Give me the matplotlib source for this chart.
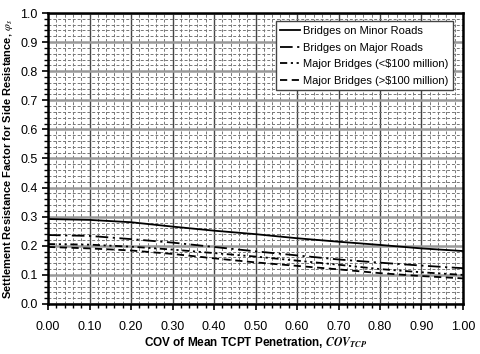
import numpy as np
import matplotlib
matplotlib.use("Agg")
import matplotlib.pyplot as plt
from matplotlib.ticker import MultipleLocator, FormatStrFormatter

plt.rcParams['font.family'] = ['Liberation Sans', 'DejaVu Sans']
plt.rcParams['mathtext.fontset'] = 'stix'

# COV values and resistance factors
cov = [0.0, 0.1, 0.2, 0.3, 0.4, 0.5, 0.6, 0.7, 0.8, 0.9, 1.0]
minor_roads = [0.292, 0.289, 0.281, 0.266, 0.252, 0.240, 0.226, 0.214, 0.203, 0.191, 0.182]
major_roads = [0.237, 0.234, 0.223, 0.211, 0.196, 0.181, 0.167, 0.153, 0.142, 0.132, 0.123]
bridges_lt100 = [0.206, 0.204, 0.197, 0.187, 0.175, 0.163, 0.149, 0.135, 0.120, 0.109, 0.100]
bridges_gt100 = [0.196, 0.191, 0.184, 0.172, 0.157, 0.143, 0.131, 0.119, 0.106, 0.096, 0.088]

labels = ['Bridges on Minor Roads', 'Bridges on Major Roads',
          'Major Bridges (<$100 million)', 'Major Bridges (>$100 million)']

fig = plt.figure(figsize=(4.81, 3.54), dpi=100)
ax = fig.add_axes([48/481, 1 - 304/354, 415/481, 291/354])

ax.plot(cov, minor_roads, color='black', lw=1.3, ls='-', label=labels[0])
ax.plot(cov, major_roads, color='black', lw=1.3, ls=(0, (7, 2.5, 1.2, 2.5)), label=labels[1])
ax.plot(cov, bridges_lt100, color='black', lw=1.3, ls=(0, (4, 2, 1.2, 2, 1.2, 2)), label=labels[2])
ax.plot(cov, bridges_gt100, color='black', lw=1.3, ls=(0, (4, 2.5)), label=labels[3])

ax.set_xlim(0, 1)
ax.set_ylim(0, 1)
ax.xaxis.set_major_locator(MultipleLocator(0.1))
ax.xaxis.set_minor_locator(MultipleLocator(0.02))
ax.yaxis.set_major_locator(MultipleLocator(0.1))
ax.yaxis.set_minor_locator(MultipleLocator(0.02))
ax.xaxis.set_major_formatter(FormatStrFormatter('%.2f'))
ax.yaxis.set_major_formatter(FormatStrFormatter('%.1f'))

# grid
ax.grid(which='minor', color='#777777', ls=(0, (3, 2)), lw=0.7)
ax.xaxis.grid(which='major', color='#444444', ls='-', lw=1.0)
ax.yaxis.grid(which='major', color='#999999', ls='-', lw=1.8)
ax.set_axisbelow(True)

for s in ax.spines.values():
    s.set_linewidth(1.8)
    s.set_color('black')

ax.tick_params(which='major', direction='out', length=4, width=1.2, labelsize=9)
ax.tick_params(which='minor', direction='out', length=3, width=1.0)
ax.tick_params(axis='x', pad=8)

ax.set_xlabel('COV of Mean TCPT Penetration, $\\mathbfit{COV}_{\\mathbfit{TCP}}$',
              fontsize=8.5, fontweight='bold', labelpad=2)
ax.set_ylabel('Settlement Resistance Factor for Side Resistance, $\\varphi_s$',
              fontsize=8, fontweight='bold', labelpad=4)

leg = ax.legend(loc='upper right', fontsize=8, handlelength=1.8, handletextpad=0.3,
                borderpad=0.4, labelspacing=0.6, fancybox=False, framealpha=1,
                edgecolor='#444444', bbox_to_anchor=(0.99, 0.99))
leg.get_frame().set_linewidth(1.0)

fig.savefig('out.png', dpi=100)
